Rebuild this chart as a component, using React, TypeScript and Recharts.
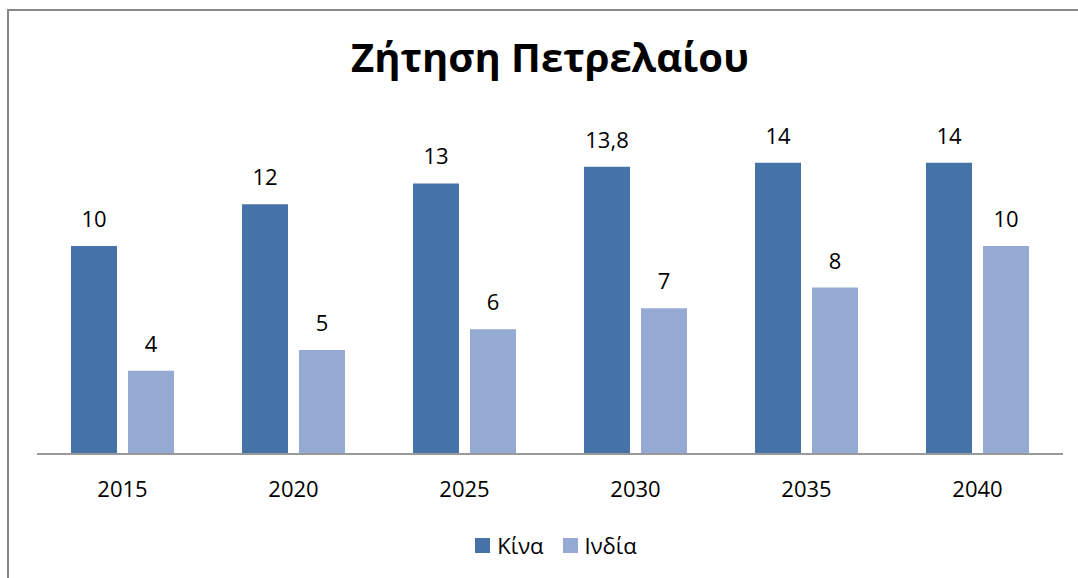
import * as React from "react";
import { BarChart, Bar, XAxis, YAxis, LabelList } from "recharts";

const years = ["2015", "2020", "2025", "2030", "2035", "2040"];
const china = [10, 12, 13, 13.8, 14, 14];
const india = [4, 5, 6, 7, 8, 10];
const seriesNames = ["Κίνα", "Ινδία"];
const seriesColors = ["#4673A7", "#94AAD2"];

const data = years.map((y, i) => ({ year: y, china: china[i], india: india[i] }));

const FONT = "'Open Sans', 'Noto Sans', sans-serif";

const fmt = (v: any) => String(v).replace(".", ",");

export default function App() {
  return (
    <div style={{ position: "absolute", left: 0, top: 0, width: 1078, height: 578, background: "#fff", overflow: "hidden", fontFamily: FONT }}>
      <div
        style={{
          position: "absolute",
          left: 7,
          top: 9,
          width: 1200,
          height: 700,
          borderLeft: "2px solid #878787",
          borderTop: "2px solid #878787",
        }}
      />
      <div
        style={{
          position: "absolute",
          left: 0,
          width: 1100,
          top: 29,
          textAlign: "center",
          fontSize: 40,
          fontWeight: 700,
          color: "#000",
          lineHeight: "56px",
        }}
      >
        Ζήτηση Πετρελαίου
      </div>
      <div style={{ position: "absolute", left: 0, top: 0 }}>
        <BarChart
          width={1078}
          height={578}
          data={data}
          margin={{ top: 121, right: 15, left: 37, bottom: 64 }}
          barSize={46}
          barGap={11}
        >
          <XAxis
            dataKey="year"
            height={60}
            tickLine={false}
            tickMargin={21}
            axisLine={{ stroke: "#999999", strokeWidth: 2 }}
            tick={{ fontSize: 22, fill: "#000", fontFamily: FONT }}
          />
          <YAxis hide domain={[0, 16]} />
          <Bar dataKey="china" name={seriesNames[0]} fill={seriesColors[0]} isAnimationActive={false}>
            <LabelList dataKey="china" position="top" offset={19} formatter={fmt} style={{ fontSize: 22, fill: "#000", fontFamily: FONT }} />
          </Bar>
          <Bar dataKey="india" name={seriesNames[1]} fill={seriesColors[1]} isAnimationActive={false}>
            <LabelList dataKey="india" position="top" offset={19} formatter={fmt} style={{ fontSize: 22, fill: "#000", fontFamily: FONT }} />
          </Bar>
        </BarChart>
      </div>
      <div
        style={{
          position: "absolute",
          left: 0,
          width: 1112,
          top: 530,
          display: "flex",
          justifyContent: "center",
          alignItems: "center",
          gap: 19,
          fontSize: 22,
          color: "#000",
          lineHeight: "30px",
        }}
      >
        {seriesNames.map((n, i) => (
          <span key={n} style={{ display: "flex", alignItems: "center", gap: 7 }}>
            <span style={{ width: 15, height: 15, background: seriesColors[i], display: "inline-block" }} />
            {n}
          </span>
        ))}
      </div>
    </div>
  );
}
